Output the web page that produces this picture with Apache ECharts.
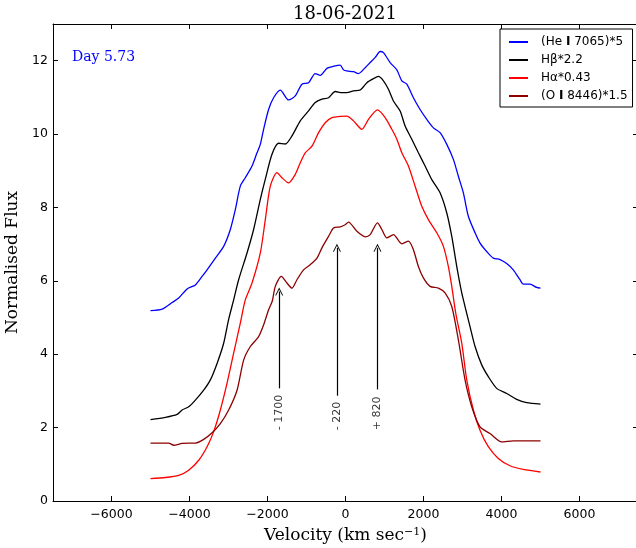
<!DOCTYPE html>
<html><head><meta charset="utf-8">
<script src="https://cdn.jsdelivr.net/npm/echarts@6/dist/echarts.min.js"></script>
<style>html,body{margin:0;padding:0;background:#fff}#c{width:636px;height:548px}</style>
</head><body><div id="c"></div>
<script>
// ---- data ----
const seriesNames = ['(He I 7065)*5', 'Hβ*2.2', 'Hα*0.43', '(O I 8446)*1.5'];
const xTicks = [-6000, -4000, -2000, 0, 2000, 4000, 6000];

const heV = [-5000,-4702,-4446,-4277,-4061,-3849,-3677,-3549,-3337,-3124,-2953,-2825,-2697,-2569,-2397,-2269,-2184,-2100,-1972,-1844,-1672,-1460,-1288,-1117,-948,-776,-648,-476,-264,-136,-51,36,205,333,504,633,761,889,973,1145,1316,1444,1572,1741,1913,2084,2254,2425,2597,2766,2894,3022,3150,3322,3450,3621,3790,3962,4133,4302,4474,4558,4730,4901,5000];
const heF = [5.19,5.23,5.41,5.53,5.78,5.89,6.12,6.30,6.62,6.94,7.40,7.94,8.58,8.81,9.13,9.49,9.72,10.13,10.67,10.99,11.20,10.93,11.04,11.36,11.40,11.65,11.60,11.79,11.86,11.88,11.75,11.72,11.70,11.65,11.81,11.95,12.09,12.25,12.22,11.95,11.75,11.45,11.36,10.99,10.67,10.40,10.17,10.04,9.72,9.31,8.85,8.40,7.76,7.31,7.03,6.80,6.62,6.58,6.47,6.30,6.03,5.91,5.91,5.82,5.80];

const hbV = [-5000,-4617,-4318,-4190,-4020,-3849,-3636,-3465,-3293,-3124,-2996,-2868,-2740,-2525,-2356,-2184,-2056,-1885,-1716,-1544,-1373,-1160,-948,-776,-604,-435,-264,-92,36,205,376,548,717,845,973,1101,1229,1401,1529,1700,1869,2041,2213,2425,2597,2725,2853,2981,3065,3193,3322,3493,3662,3877,4133,4389,4645,5000];
const hbF = [2.22,2.28,2.36,2.48,2.57,2.75,3.02,3.30,3.75,4.30,4.95,5.48,6.03,6.76,7.40,8.22,8.77,9.45,9.75,9.73,9.95,10.36,10.63,10.86,10.95,10.99,11.16,11.13,11.13,11.18,11.20,11.40,11.51,11.57,11.45,11.22,10.90,10.63,10.22,9.86,9.49,9.13,8.76,8.40,7.85,7.21,6.39,5.67,5.30,4.75,4.21,3.71,3.39,3.07,2.93,2.77,2.68,2.64];

const haV = [-5000,-4617,-4277,-4020,-3764,-3549,-3380,-3209,-3037,-2868,-2697,-2569,-2397,-2184,-2056,-1928,-1757,-1629,-1460,-1288,-1160,-1032,-860,-691,-520,-348,-136,36,205,420,589,819,1017,1188,1316,1444,1613,1785,1956,2125,2341,2510,2638,2725,2830,2981,3109,3278,3449,3662,3918,4218,4558,5000];
const haF = [0.61,0.64,0.70,0.84,1.11,1.48,1.89,2.48,3.21,4.03,4.85,5.48,5.94,6.76,7.67,8.58,8.95,8.81,8.67,8.90,9.22,9.49,9.67,10.04,10.31,10.45,10.48,10.49,10.36,10.13,10.40,10.66,10.45,10.13,9.86,9.49,9.13,8.58,8.03,7.67,7.31,6.94,6.39,5.85,5.10,4.30,3.30,2.48,1.93,1.48,1.16,0.96,0.86,0.79];

const oiV = [-5000,-4789,-4533,-4405,-4190,-3849,-3636,-3421,-3209,-2996,-2781,-2612,-2440,-2228,-2100,-1972,-1877,-1800,-1647,-1501,-1373,-1245,-1076,-904,-732,-604,-435,-307,-136,-8,77,292,504,633,819,932,1060,1229,1444,1613,1741,1869,1997,2169,2382,2553,2725,2894,3065,3237,3449,3706,4005,4302,4645,5000];
const oiF = [1.58,1.58,1.58,1.52,1.57,1.58,1.68,1.86,2.11,2.48,3.02,3.84,4.21,4.48,4.80,5.21,5.45,5.85,6.12,5.94,5.80,6.03,6.30,6.44,6.62,6.90,7.21,7.44,7.47,7.53,7.60,7.35,7.20,7.26,7.58,7.40,7.17,7.26,7.01,7.08,6.85,6.39,6.08,5.85,5.80,5.67,5.30,4.39,3.30,2.57,2.02,1.84,1.61,1.64,1.64,1.64];

const arrowX = [-1700, -220, 820];
const arrowBottom = [3.07, 2.87, 3.04];
const arrowTop = [5.71, 6.90, 6.90];
const arrowLabels = ['- 1700', '- 220', '+ 820'];
const arrowLabelY = 1.93;

// ---- chart ----
const pair = (v, f) => v.map((x, i) => [x, f[i]]);
const colors = ['#0000ff', '#000000', '#ff0000', '#8b0000'];
const sets = [[heV, heF], [hbV, hbF], [haV, haF], [oiV, oiF]];
const serif = 'DejaVu Serif';
const sans = 'DejaVu Sans';
const fmtX = v => String(v).replace('-', '\u2212');
const chevron = 'path://M0,10 L5,0 L10,10 L8.8,10 L5,2.4 L1.2,10 Z';

const lineSeries = sets.map((s, i) => ({
  name: seriesNames[i], type: 'line', data: pair(s[0], s[1]),
  symbol: 'none', smooth: 0.25, lineStyle: {color: colors[i], width: 1.3},
  itemStyle: {color: colors[i]}, silent: true, z: 3
}));

const axisLineCfg = {show: true, onZero: false, lineStyle: {color: '#000', width: 1}};

const chart = echarts.init(document.getElementById('c'), null, {renderer: 'canvas'});
chart.setOption({
  animation: false,
  backgroundColor: '#fff',
  title: [
    {text: '18-06-2021', left: 345, top: 5, textAlign: 'center', padding: 0,
     textStyle: {fontFamily: serif, fontSize: 18, fontWeight: 'normal', color: '#000'}},
    {text: 'Day 5.73', left: 72, top: 50, padding: 0,
     textStyle: {fontFamily: serif, fontSize: 14, fontWeight: 'normal', color: '#0000ff'}}
  ],
  legend: {
    data: seriesNames, orient: 'vertical', left: 500, top: 29,
    itemWidth: 19, itemHeight: 13, itemGap: 6, padding: [7, 5, 5, 8],
    borderColor: '#000', borderWidth: 1, borderRadius: 0, backgroundColor: '#fff',
    itemStyle: {opacity: 0},
    formatter: n => n.replace(' I ', ' {b|I} '),
    textStyle: {fontFamily: sans, fontSize: 12, color: '#000', padding: [0, 0, 0, 8],
      rich: {b: {fontFamily: sans, fontSize: 12, fontWeight: 'bold', color: '#000'}}},
    selectedMode: false
  },
  grid: {left: 53, top: 24, width: 585, height: 477, outerBoundsMode: 'none', containLabel: false},
  xAxis: [
    {type: 'value', min: -7500, max: 7500, position: 'bottom',
     name: 'Velocity (km sec{sup|\u22121})', nameLocation: 'middle', nameGap: 26,
     nameTextStyle: {fontFamily: serif, fontSize: 17, color: '#000',
       rich: {sup: {fontFamily: serif, fontSize: 11, verticalAlign: 'top', color: '#000'}}},
     axisLine: axisLineCfg,
     axisTick: {show: true, inside: true, length: 5, customValues: xTicks, lineStyle: {color: '#000'}},
     axisLabel: {customValues: xTicks, formatter: fmtX, fontFamily: sans, fontSize: 12.5, color: '#000', margin: 7},
     splitLine: {show: false}},
    {type: 'value', min: -7500, max: 7500, position: 'top',
     axisLine: axisLineCfg,
     axisTick: {show: true, inside: true, length: 5, customValues: xTicks, lineStyle: {color: '#000'}},
     axisLabel: {show: false}, splitLine: {show: false}}
  ],
  yAxis: [
    {type: 'value', min: 0, max: 13, interval: 2, position: 'left',
     name: 'Normalised Flux', nameLocation: 'middle', nameGap: 30,
     nameTextStyle: {fontFamily: serif, fontSize: 17, color: '#000'},
     axisLine: axisLineCfg,
     axisTick: {show: true, inside: true, length: 5, lineStyle: {color: '#000'}},
     axisLabel: {fontFamily: sans, fontSize: 12.5, color: '#000', margin: 5, showMaxLabel: false},
     splitLine: {show: false}},
    {type: 'value', min: 0, max: 13, interval: 2, position: 'right',
     axisLine: axisLineCfg,
     axisTick: {show: true, inside: true, length: 5, lineStyle: {color: '#000'}},
     axisLabel: {show: false}, splitLine: {show: false}}
  ],
  series: lineSeries.concat([
    {type: 'line', data: [], silent: true, z: 4,
     markLine: {silent: true, symbol: ['none', chevron], symbolSize: 8,
       label: {show: false}, emphasis: {disabled: true},
       lineStyle: {color: '#000', width: 1.2, type: 'solid'},
       data: arrowX.map((x, i) => [{coord: [x, arrowBottom[i]]}, {coord: [x, arrowTop[i]]}])}},
    {type: 'scatter', data: arrowX.map(x => [x, arrowLabelY]), symbolSize: 1, silent: true,
     itemStyle: {color: 'transparent'}, z: 5,
     label: {show: true, position: 'inside', rotate: 90, align: 'left', verticalAlign: 'middle',
       formatter: p => arrowLabels[p.dataIndex], fontFamily: sans, fontSize: 11, color: '#000'}}
  ])
});
</script></body></html>
